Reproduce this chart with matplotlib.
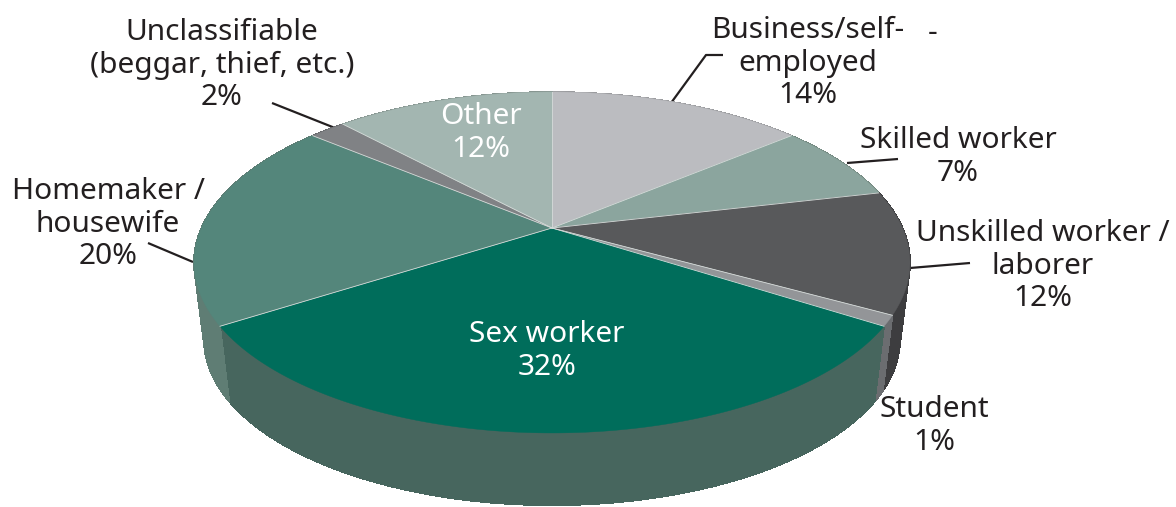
import numpy as np
import matplotlib
matplotlib.use('Agg')
import matplotlib.pyplot as plt
from matplotlib.collections import PolyCollection

categories = ['Business', 'Skilled', 'Unskilled', 'Student', 'Sex', 'Homemaker', 'Unclassifiable', 'Other']
values = [14, 7.4, 11.6, 1, 32, 20, 2, 12]
top_colors = ['#bbbcc0', '#8ba59e', '#58595b', '#939598', '#006d5b', '#54867b', '#808285', '#a3b6b1']
wall_colors = ['#9a9b9e', '#73887f', '#3d3d3f', '#6b6d70', '#47665e', '#5f7d74', '#66686b', '#869590']
labels = ['Business/self-\nemployed\n14%', 'Skilled worker\n7%', 'Unskilled worker /\nlaborer\n12%',
          'Student\n1%', 'Sex worker\n32%', 'Homemaker /\nhousewife\n20%',
          'Unclassifiable\n(beggar, thief, etc.)\n2%', 'Other\n12%']
label_pos = [(808, 63), (958, 157), (1043, 266), (934, 426), (547, 351), (108, 224), (222, 65), (481, 133)]
label_colors = ['#231f20', '#231f20', '#231f20', '#231f20', 'white', '#231f20', '#231f20', 'white']
leaders = [
    [(671, 103), (706, 55), (723, 55)],
    [(847, 163), (898, 159)],
    [(910, 268), (970, 263)],
    [(148, 243), (193, 262)],
    [(272, 103), (335, 128)],
]

# pie as a tilted disc, centre of the disc is at (cx, cy) on the picture
cx, cy = 552, 228
tilt = 0.2023
half_w = 350.6
half_h = 163.5
depth = 78
shrink = 0.972


def project(theta, bottom=False):
    # theta in degrees, clockwise from twelve o'clock
    t = np.radians(theta)
    x = np.sin(t)
    y = np.cos(t)
    px = half_w * x / (1 + tilt * y)
    py = half_h * y / (1 + tilt * y)
    if bottom:
        return cx + shrink * px, cy + depth - shrink * py
    return cx + px, cy - py


fig = plt.figure(figsize=(11.76, 5.07), dpi=100)
ax = fig.add_axes([0, 0, 1, 1])
ax.set_xlim(0, 1176)
ax.set_ylim(507, 0)
ax.axis('off')

edges = np.cumsum([0] + values) * 360 / sum(values)

# side walls first, the top faces cover whatever is behind
# quads keep the sides straight past the outline of the disc, no antialias or the seams show
for i in range(len(values)):
    th = np.linspace(edges[i], edges[i + 1], 200)
    tx, ty = project(th)
    bx, by = project(th, bottom=True)
    quads = [[(tx[j], ty[j]), (tx[j + 1], ty[j + 1]), (bx[j + 1], by[j + 1]), (bx[j], by[j])]
             for j in range(len(th) - 1)]
    ax.add_collection(PolyCollection(quads, facecolors=wall_colors[i], edgecolors=wall_colors[i],
                                     linewidths=0.5, antialiaseds=False, zorder=2))
    # smooth lower rim
    ax.fill(np.r_[tx, bx[::-1]], np.r_[ty, by[::-1]], color=wall_colors[i], lw=0.3, zorder=2)

for i in range(len(values)):
    th = np.linspace(edges[i], edges[i + 1], 200)
    tx, ty = project(th)
    ax.fill(np.r_[cx, tx], np.r_[cy, ty], color=top_colors[i], lw=0.3, zorder=3)

# thin pale lines between the slices
for e in edges[:-1]:
    ex, ey = project(e)
    ax.plot([cx, ex], [cy, ey], color='#d5dbd9', lw=0.6, zorder=4)

for line in leaders:
    xs, ys = zip(*line)
    ax.plot(xs, ys, color='#231f20', lw=1.6, zorder=1, solid_capstyle='butt')

for text, pos, c in zip(labels, label_pos, label_colors):
    ax.text(pos[0], pos[1], text, color=c, ha='center', va='center', family='Noto Sans',
            fontsize=21.5, linespacing=1.14, zorder=5)
ax.text(933, 33, '-', color='#231f20', ha='center', va='center', family='Noto Sans', fontsize=21.5, zorder=5)

fig.savefig('out.png', dpi=100)
